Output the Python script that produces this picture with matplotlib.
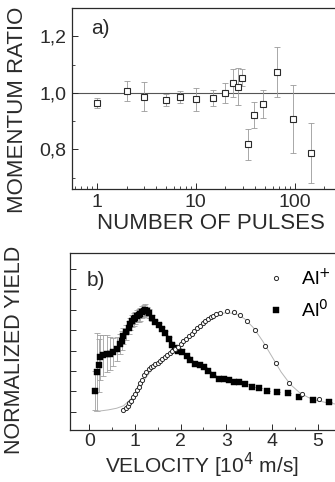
import numpy as np
import matplotlib.pyplot as plt
from matplotlib.ticker import FixedLocator, FuncFormatter, NullFormatter, LogLocator

plt.rcParams['font.family'] = ['Liberation Sans', 'DejaVu Sans']

# a) momentum ratio vs number of pulses
pulses = [1, 2, 3, 5, 7, 10, 15, 20, 24, 27, 29.5, 34, 39, 48, 66, 96, 145]
ratio = [0.965, 1.008, 0.987, 0.975, 0.986, 0.977, 0.983, 1.001, 1.034, 1.022,
         1.053, 0.819, 0.922, 0.962, 1.074, 0.908, 0.787]
ratio_err = [0.018, 0.035, 0.05, 0.022, 0.02, 0.04, 0.028, 0.035, 0.05, 0.065,
             0.03, 0.055, 0.045, 0.05, 0.087, 0.12, 0.105]

# b) velocity distributions
v_ion = [0.75, 0.80, 0.84, 0.88, 0.92, 0.96, 1.00, 1.04, 1.08, 1.12, 1.16, 1.20,
         1.25, 1.30, 1.35, 1.40, 1.45, 1.50, 1.55, 1.60, 1.65, 1.70, 1.76, 1.82,
         1.88, 1.94, 2.00, 2.06, 2.12, 2.18, 2.24, 2.30, 2.36, 2.42, 2.48, 2.54,
         2.60, 2.66, 2.72, 2.78, 2.86, 3.01, 3.16, 3.29, 3.45, 3.63, 3.85, 4.09,
         4.37, 4.65, 5.02]
y_ion = [1.11, 1.20, 1.30, 1.42, 1.55, 1.72, 1.88, 2.05, 2.22, 2.40, 2.58, 2.78,
         2.95, 3.08, 3.18, 3.26, 3.33, 3.40, 3.48, 3.58, 3.68, 3.78, 3.88, 3.98,
         4.08, 4.18, 4.30, 4.45, 4.58, 4.70, 4.82, 4.94, 5.08, 5.22, 5.34, 5.44,
         5.52, 5.62, 5.70, 5.78, 5.84, 5.92, 5.89, 5.71, 5.44, 4.99, 4.20, 3.39,
         2.39, 1.88, 1.64]
v_fit = [0.12, 0.25, 0.42, 0.60, 0.75, 0.90, 1.05, 1.20, 1.40, 1.60, 1.80, 2.00,
         2.20, 2.40, 2.60, 2.80, 3.00, 3.20, 3.40, 3.60, 3.80, 4.00, 4.20, 4.40,
         4.60, 4.80, 5.00, 5.20, 5.50, 5.90]
y_fit = [1.02, 1.05, 1.10, 1.18, 1.30, 1.60, 2.00, 2.55, 3.15, 3.55, 3.90, 4.25,
         4.70, 5.15, 5.50, 5.75, 5.85, 5.80, 5.55, 5.10, 4.45, 3.70, 2.95, 2.35,
         1.95, 1.70, 1.55, 1.45, 1.35, 1.25]
v_neu = [0.12, 0.16, 0.21, 0.24, 0.31, 0.39, 0.46, 0.53, 0.61, 0.68, 0.71, 0.75,
         0.81, 0.86, 0.90, 0.93, 0.97, 1.01, 1.04, 1.08, 1.12, 1.15, 1.19, 1.23,
         1.26, 1.30, 1.37, 1.44, 1.52, 1.59, 1.66, 1.74, 1.81, 1.88, 1.95, 2.03,
         2.14, 2.21, 2.32, 2.43, 2.52, 2.61, 2.72, 2.83, 2.94, 3.05, 3.16, 3.27,
         3.41, 3.56, 3.71, 3.89, 4.11, 4.36, 4.60, 4.89, 5.24]
y_neu = [2.03, 2.96, 3.28, 3.68, 3.76, 3.84, 3.84, 3.92, 4.08, 4.32, 4.48, 4.72,
         4.88, 5.12, 5.28, 5.44, 5.52, 5.60, 5.68, 5.71, 5.76, 5.87, 5.92, 5.97,
         5.92, 5.81, 5.60, 5.39, 5.23, 5.07, 4.85, 4.56, 4.27, 4.11, 4.00, 3.95,
         3.72, 3.56, 3.36, 3.28, 3.20, 2.99, 2.79, 2.63, 2.59, 2.55, 2.47, 2.44,
         2.35, 2.23, 2.15, 2.03, 1.95, 1.91, 1.71, 1.59, 1.48]
err_neu = [0.95, 1.9, 1.3, 1.1, 1.0, 0.9, 0.8, 0.7, 0.6, 0.5, 0.45, 0.4,
           0.35, 0.3, 0.3, 0.3, 0.3, 0.3, 0.3, 0.3, 0.3, 0.3, 0.3, 0.3,
           0.2, 0.2, 0.15, 0.1, 0.1, 0.1, 0.1, 0.1, 0.1, 0.1, 0.1, 0.1,
           0, 0, 0, 0, 0, 0, 0, 0, 0, 0, 0, 0,
           0, 0, 0, 0, 0, 0, 0, 0, 0]

fig = plt.figure(figsize=(3.35, 4.82), dpi=100)
ink = '#2a2a2a'

# ---- panel a ----
ax1 = fig.add_axes([0.215, 0.608, 0.827, 0.375])
ax1.set_xscale('log')
ax1.set_xlim(10 ** -0.25, 10 ** 2.55)
ax1.set_ylim(0.66, 1.30)
ax1.axhline(1.0, color='#555555', lw=0.8, zorder=1)
ax1.errorbar(pulses, ratio, yerr=ratio_err, fmt='none', ecolor='#9a9a9a',
             elinewidth=0.6, capsize=2.5, capthick=0.6, zorder=2)
ax1.plot(pulses, ratio, 's', ms=4.3, mfc='white', mec=ink, mew=0.8, zorder=3)
ax1.yaxis.set_major_locator(FixedLocator([0.8, 1.0, 1.2]))
ax1.yaxis.set_minor_locator(FixedLocator([0.7, 0.9, 1.1]))
ax1.yaxis.set_major_formatter(FuncFormatter(lambda v, p: f'{v:.1f}'.replace('.', ',')))
ax1.xaxis.set_major_locator(FixedLocator([1, 10, 100]))
ax1.xaxis.set_major_formatter(FuncFormatter(lambda v, p: f'{v:g}'))
ax1.xaxis.set_minor_locator(LogLocator(base=10, subs=np.arange(2, 10)))
ax1.xaxis.set_minor_formatter(NullFormatter())
ax1.text(0.07, 0.94, 'a)', transform=ax1.transAxes, fontsize=15, va='top', color=ink)
ax1.set_xlabel('NUMBER OF PULSES', fontsize=16, color=ink, labelpad=1)
ax1.set_ylabel('MOMENTUM RATIO', fontsize=16, color=ink)
ax1.yaxis.set_label_coords(-0.16, 0.44)

# ---- panel b ----
ax2 = fig.add_axes([0.209, 0.108, 0.862, 0.367])
ax2.set_xlim(-0.42, 5.9)
ax2.set_ylim(0.12, 8.76)
ax2.errorbar(v_neu, y_neu, yerr=err_neu, fmt='none', ecolor='#a0a0a0',
             elinewidth=0.6, capsize=2.5, capthick=0.6, zorder=1)
ax2.plot(v_fit, y_fit, '-', color='#b5b5b5', lw=0.7, zorder=1)
ax2.plot(v_ion, y_ion, 'o', ms=3.0, mfc='white', mec=ink, mew=0.7, zorder=3,
         label='Al$^{+}$')
ax2.plot(v_neu, y_neu, 's', ms=4.2, mfc='black', mec='black', mew=0.3, zorder=2,
         label='Al$^{0}$')
ax2.xaxis.set_major_locator(FixedLocator([0, 1, 2, 3, 4, 5]))
ax2.xaxis.set_minor_locator(FixedLocator([0.5, 1.5, 2.5, 3.5, 4.5, 5.5]))
ax2.yaxis.set_major_locator(FixedLocator([1, 2, 3, 4, 5, 6, 7, 8]))
ax2.yaxis.set_major_formatter(NullFormatter())
ax2.text(0.057, 0.9, 'b)', transform=ax2.transAxes, fontsize=15, va='top', color=ink)
ax2.legend(loc='upper left', bbox_to_anchor=(0.645, 0.96), frameon=False,
           fontsize=14, handletextpad=0.7, labelspacing=0.5, handlelength=1.2,
           borderaxespad=0)
ax2.set_xlabel('VELOCITY [10$^{4}$ m/s]', fontsize=15, color=ink)
ax2.xaxis.set_label_coords(0.457, -0.118)
ax2.set_ylabel('NORMALIZED YIELD', fontsize=15.5, color=ink)
ax2.yaxis.set_label_coords(-0.155, 0.45)

for ax in (ax1, ax2):
    for s in ax.spines.values():
        s.set_color(ink)
        s.set_linewidth(0.9)
    ax.tick_params(which='major', direction='in', length=4, width=0.7,
                   labelsize=14, colors=ink, pad=4)
    ax.tick_params(which='minor', direction='in', length=2.5, width=0.6, colors=ink)
ax2.tick_params(axis='x', which='major', pad=2.5)

fig.savefig('out.png', dpi=100)
